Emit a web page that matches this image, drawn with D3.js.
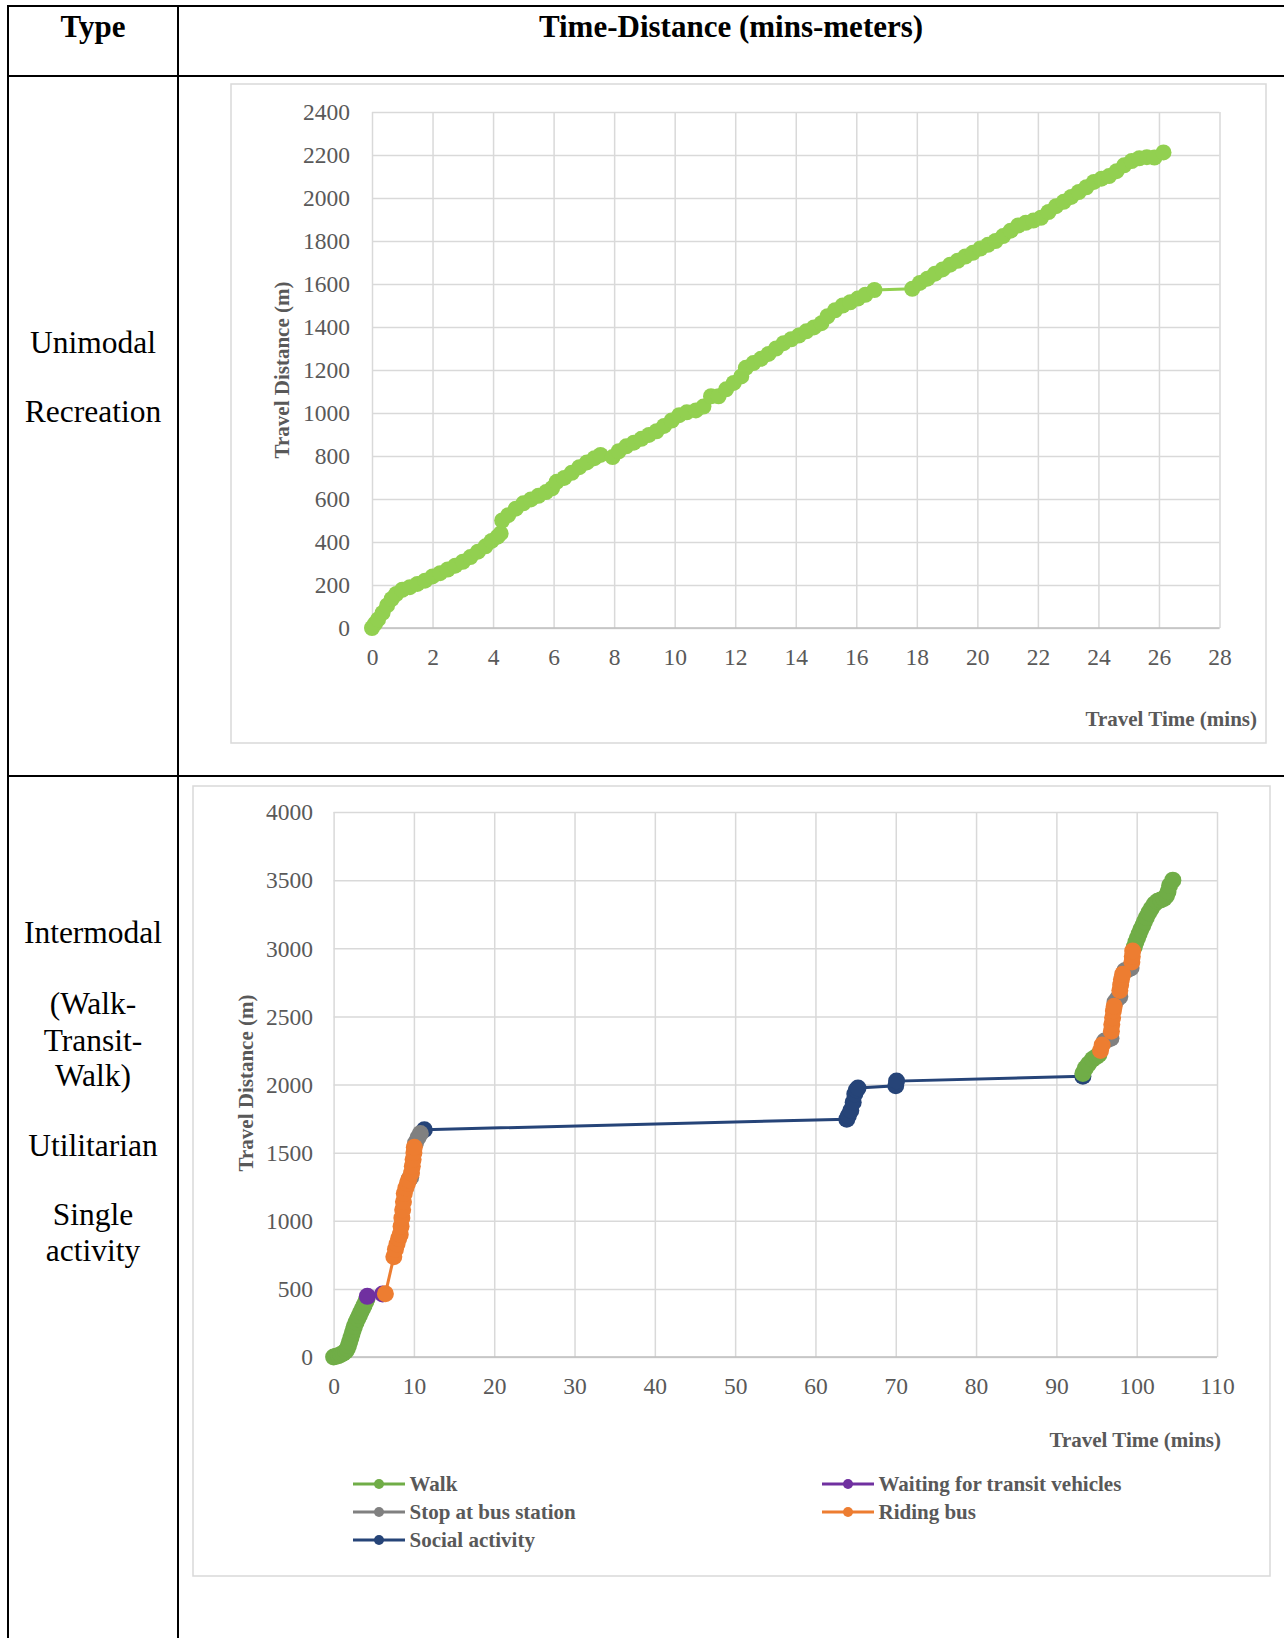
<!DOCTYPE html>
<html>
<head>
<meta charset="utf-8">
<script src="https://cdn.jsdelivr.net/npm/d3@7"></script>
<style>
body { margin: 0; background: #fff; }
svg { display: block; }
text { font-family: "Liberation Serif", "Times New Roman", serif; }
</style>
</head>
<body>
<svg id="page" width="1284" height="1638"></svg>
<script>
var SERIF = '"Liberation Serif","Times New Roman",serif';

// ---- data: unimodal recreation trip (time in mins, distance in m)
var recTime = [0,0.1,0.2,0.35,0.5,0.65,0.8,1.0,1.25,1.5,1.75,2.0,2.25,2.5,2.75,3.0,3.25,3.5,3.75,3.95,4.15,4.25,4.3,4.5,4.75,5.0,5.25,5.5,5.75,5.95,6.1,6.35,6.6,6.85,7.1,7.35,7.55,7.95,8.15,8.4,8.65,8.9,9.15,9.4,9.65,9.9,10.15,10.4,10.7,10.95,11.2,11.45,11.7,11.95,12.2,12.35,12.6,12.85,13.1,13.35,13.6,13.85,14.1,14.35,14.6,14.85,15.05,15.3,15.55,15.8,16.05,16.3,16.6,17.85,18.1,18.35,18.6,18.85,19.1,19.35,19.6,19.85,20.1,20.35,20.6,20.85,21.1,21.35,21.6,21.85,22.1,22.35,22.6,22.85,23.1,23.35,23.6,23.85,24.1,24.35,24.6,24.85,25.1,25.35,25.6,25.85,26.15];
var recDist = [0,20,40,70,105,135,158,178,190,205,220,240,255,272,290,308,330,355,380,405,425,440,500,525,555,580,598,615,632,650,680,698,722,748,770,790,805,795,822,845,862,880,898,915,940,965,990,1003,1012,1030,1078,1078,1110,1140,1170,1210,1232,1252,1275,1300,1325,1343,1360,1380,1398,1418,1450,1478,1500,1515,1532,1550,1572,1578,1605,1625,1648,1668,1690,1708,1728,1745,1765,1782,1800,1823,1848,1872,1885,1895,1908,1935,1962,1982,2005,2028,2050,2075,2090,2102,2125,2152,2172,2185,2190,2188,2212];

var recXTicks = d3.range(0, 29, 2);
var recYTicks = d3.range(0, 2401, 200);

// ---- data: intermodal trip, one list per activity, null = gap in the series
var walkPts = [[0,0],[0.3,5],[0.6,10],[0.9,18],[1.2,28],[1.5,42],[1.7,60],[1.85,85],[2.0,110],[2.15,140],[2.3,170],[2.45,200],[2.6,225],[2.8,255],[3.0,280],[3.2,305],[3.4,330],[3.6,355],[3.8,380],[4.0,405],[4.15,425],
  null,
  [93.3,2080],[93.6,2120],[94.0,2150],[94.5,2185],[95.0,2205],[95.3,2220],
  null,
  [99.7,3010],[99.9,3045],[100.1,3075],[100.3,3105],[100.5,3135],[100.75,3165],[100.95,3195],[101.2,3225],[101.5,3260],[101.8,3290],[102.2,3325],[102.6,3345],[103.0,3355],[103.4,3365],[103.7,3385],[103.9,3415],[104.1,3460],[104.5,3500]];
var waitPts = [[4.2,445],[6.1,462]];
var stopPts = [[9.4,1305],[9.6,1320], null, [10.2,1570],[10.5,1610],[10.8,1640], null,
  [96.0,2320],[96.4,2330],[96.8,2340], null, [97.3,2605],[97.6,2630],[97.9,2645], null, [98.5,2835],[98.9,2845],[99.3,2855]];
var busPts = [[6.45,465],[7.5,735],[7.7,790],[7.9,830],[8.1,870],[8.3,900],[8.4,960],[8.5,1020],[8.6,1080],[8.7,1140],[8.8,1200],[9.0,1240],[9.2,1275],[9.35,1300],
  null, [9.7,1350],[9.8,1400],[9.9,1450],[10.0,1500],[10.05,1540],
  null, [95.5,2250],[95.7,2290],
  null, [96.85,2390],[96.9,2440],[97.0,2490],[97.1,2540],[97.2,2575],
  null, [97.9,2690],[98.0,2730],[98.1,2770],[98.25,2810],
  null, [99.4,2900],[99.45,2940],[99.5,2980]];
var socialPts = [[11.3,1668],[63.9,1745],[64.1,1770],[64.4,1810],[64.7,1870],[64.9,1930],[65.1,1960],[65.3,1975],[70.0,1990],[70.1,2025],[93.3,2060]];

var interXTicks = d3.range(0, 111, 10);
var interYTicks = d3.range(0, 4001, 500);

var series = [
  { name: "Walk", color: "#70ad47", pts: walkPts },
  { name: "Waiting for transit vehicles", color: "#7030a0", pts: waitPts },
  { name: "Stop at bus station", color: "#808080", pts: stopPts },
  { name: "Riding bus", color: "#ed7d31", pts: busPts },
  { name: "Social activity", color: "#264478", pts: socialPts }
];
// z order seen in the picture
var drawOrder = ["Social activity", "Stop at bus station", "Walk", "Waiting for transit vehicles", "Riding bus"];

var svg = d3.select('#page');
svg.append('rect').attr('width', 1284).attr('height', 1638).attr('fill', '#fff');

// ---- table frame
var tbl = svg.append('g').attr('stroke', '#000').attr('stroke-width', 2);
[[8,6,1284,6],[8,76,1284,76],[8,776,1284,776],[8,5,8,1638],[178,5,178,1638]].forEach(function(l) {
  tbl.append('line').attr('x1', l[0]).attr('y1', l[1]).attr('x2', l[2]).attr('y2', l[3]);
});

svg.append('text').attr('x', 93).attr('y', 37).attr('text-anchor', 'middle')
  .attr('font-size', 31).attr('font-weight', 'bold').text('Type');
svg.append('text').attr('x', 731).attr('y', 37).attr('text-anchor', 'middle')
  .attr('font-size', 31).attr('font-weight', 'bold').text('Time-Distance (mins-meters)');

var rowLabels = [
  { text: "Unimodal", y: 343 }, { text: "Recreation", y: 412 },
  { text: "Intermodal", y: 933 }, { text: "(Walk-", y: 1004 }, { text: "Transit-", y: 1041 },
  { text: "Walk)", y: 1076 }, { text: "Utilitarian", y: 1146 }, { text: "Single", y: 1215 },
  { text: "activity", y: 1251 }
];
svg.selectAll('text.rowlab').data(rowLabels).enter().append('text')
  .attr('class', 'rowlab')
  .attr('x', 93).attr('y', function(d) { return d.y + 10; })
  .attr('text-anchor', 'middle').attr('font-size', 31.5)
  .text(function(d) { return d.text; });

// ---- shared chart pieces
function chartFrame(box) {
  svg.append('rect').attr('x', box[0]).attr('y', box[1])
    .attr('width', box[2] - box[0]).attr('height', box[3] - box[1])
    .attr('fill', '#fff').attr('stroke', '#d9d9d9').attr('stroke-width', 1.5);
}

function gridAndAxes(x, y, xTicks, yTicks, opt) {
  var g = svg.append('g');
  var x0 = x.range()[0], x1 = x.range()[1], y0 = y.range()[0], y1 = y.range()[1];

  g.append('g').attr('transform', 'translate(0,' + y0 + ')')
    .call(d3.axisBottom(x).tickValues(xTicks).tickSize(-(y0 - y1)).tickFormat(''))
    .call(function(a) { a.select('.domain').remove(); })
    .selectAll('.tick line').attr('stroke', '#d9d9d9').attr('stroke-width', 1.5);

  g.append('g').attr('transform', 'translate(' + x0 + ',0)')
    .call(d3.axisLeft(y).tickValues(yTicks).tickSize(-(x1 - x0)).tickFormat(''))
    .call(function(a) { a.select('.domain').remove(); })
    .selectAll('.tick line').attr('stroke', '#d9d9d9').attr('stroke-width', 1.5);

  // x axis line
  g.append('line').attr('x1', x0).attr('x2', x1).attr('y1', y0).attr('y2', y0)
    .attr('stroke', '#bfbfbf').attr('stroke-width', 1.5);

  var xa = g.append('g').attr('transform', 'translate(0,' + y0 + ')')
    .call(d3.axisBottom(x).tickValues(xTicks).tickSize(0).tickFormat(d3.format('d')))
    .attr('font-family', SERIF).attr('font-size', 23.5);
  xa.select('.domain').remove();
  xa.selectAll('text').attr('y', opt.xLabelOff).attr('dy', '0.33em')
    .attr('fill', '#595959').style('font-family', SERIF);

  var ya = g.append('g').attr('transform', 'translate(' + x0 + ',0)')
    .call(d3.axisLeft(y).tickValues(yTicks).tickSize(0).tickPadding(opt.yPad).tickFormat(d3.format('d')))
    .attr('font-family', SERIF).attr('font-size', 23.5);
  ya.select('.domain').remove();
  ya.selectAll('text').attr('dy', '0.33em')
    .attr('fill', '#595959').style('font-family', SERIF);

  svg.append('text').attr('x', opt.xTitle[0]).attr('y', opt.xTitle[1])
    .attr('text-anchor', 'end').attr('font-size', 21).attr('font-weight', 'bold')
    .attr('fill', '#595959').text('Travel Time (mins)');
  svg.append('text')
    .attr('transform', 'translate(' + opt.yTitle[0] + ',' + opt.yTitle[1] + ') rotate(-90)')
    .attr('text-anchor', 'middle').attr('dy', '0.35em')
    .attr('font-size', 21).attr('font-weight', 'bold')
    .attr('fill', '#595959').text('Travel Distance (m)');
}

// ---- chart 1: unimodal recreation
chartFrame([231, 84, 1266, 743]);
var x1 = d3.scaleLinear().domain([0, 28]).range([372, 1219.5]);
var y1 = d3.scaleLinear().domain([0, 2400]).range([628, 112]);
gridAndAxes(x1, y1, recXTicks, recYTicks, { xLabelOff: 29, yPad: 22, xTitle: [1257, 726], yTitle: [282, 370] });

var recPts = recTime.map(function(t, i) { return [t, recDist[i]]; });
var line1 = d3.line().x(function(d) { return x1(d[0]); }).y(function(d) { return y1(d[1]); });
svg.append('path').datum(recPts).attr('d', line1)
  .attr('fill', 'none').attr('stroke', '#92d050').attr('stroke-width', 3);
svg.append('g').selectAll('circle').data(recPts).enter().append('circle')
  .attr('cx', function(d) { return x1(d[0]); })
  .attr('cy', function(d) { return y1(d[1]); })
  .attr('r', 8).attr('fill', '#92d050');

// ---- chart 2: intermodal utilitarian
chartFrame([193, 786, 1270, 1576]);
var x2 = d3.scaleLinear().domain([0, 110]).range([333.6, 1217]);
var y2 = d3.scaleLinear().domain([0, 4000]).range([1357, 812]);
gridAndAxes(x2, y2, interXTicks, interYTicks, { xLabelOff: 29, yPad: 20.6, xTitle: [1221, 1447], yTitle: [245.5, 1083] });

var line2 = d3.line().defined(function(d) { return d !== null; })
  .x(function(d) { return x2(d[0]); }).y(function(d) { return y2(d[1]); });

drawOrder.forEach(function(name) {
  var s = series.find(function(v) { return v.name === name; });
  var g = svg.append('g');
  g.append('path').datum(s.pts).attr('d', line2)
    .attr('fill', 'none').attr('stroke', s.color).attr('stroke-width', 3);
  g.selectAll('circle').data(s.pts.filter(function(d) { return d !== null; }))
    .enter().append('circle')
    .attr('cx', function(d) { return x2(d[0]); })
    .attr('cy', function(d) { return y2(d[1]); })
    .attr('r', 8.5).attr('fill', s.color);
});

// legend, two columns, row-major
var legPos = [[353, 1484], [822, 1484], [353, 1512], [822, 1512], [353, 1540]];
var leg = svg.append('g').selectAll('g').data(series).enter().append('g')
  .attr('transform', function(d, i) { return 'translate(' + legPos[i][0] + ',' + legPos[i][1] + ')'; });
leg.append('line').attr('x1', 0).attr('x2', 52).attr('y1', 0).attr('y2', 0)
  .attr('stroke', function(d) { return d.color; }).attr('stroke-width', 3);
leg.append('circle').attr('cx', 26).attr('cy', 0).attr('r', 5)
  .attr('fill', function(d) { return d.color; });
leg.append('text').attr('x', 56.5).attr('y', 0).attr('dy', '0.33em')
  .attr('font-size', 21).attr('font-weight', 'bold').attr('fill', '#595959')
  .text(function(d) { return d.name; });
</script>
</body>
</html>
